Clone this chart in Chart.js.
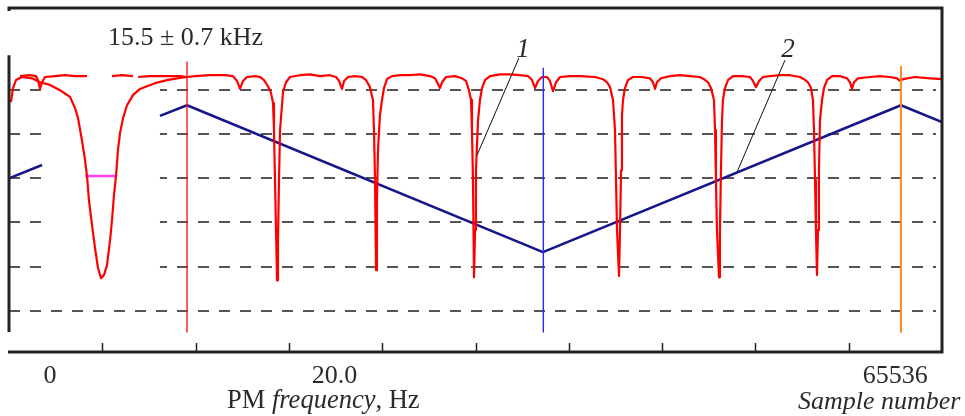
<!DOCTYPE html>
<html>
<head>
<meta charset="utf-8">
<script src="https://cdn.jsdelivr.net/npm/chart.js@4.4.1/dist/chart.umd.min.js"></script>
<style>
  html, body { margin: 0; padding: 0; background: #fff; }
</style>
</head>
<body>
<canvas id="chart" width="965" height="416"></canvas>
<script>
// x in scale divisions (0..10), y in grid divisions (dashed lines at 1..6)

// transmission spectrum, curve 1 (null = break in the trace)
var spectrumX = [0.118, 0.225, 0.289, 0.311, 0.332, 0.354, 0.386, 0.493, 0.600, 0.707, 0.836, 0.97,
    1.104, 1.211, 1.329, 1.36,
    1.383, 1.511, 1.672, 1.833, 1.908, 1.994, 2.154, 2.315, 2.401, 2.444, 2.476, 2.508, 2.551, 2.637, 2.690,
    2.733, 2.776, 2.808, 2.830, 2.840, 2.851, 2.862, 2.873, 2.883, 2.894, 2.905, 2.926, 2.937, 2.969, 3.012,
    3.119, 3.226, 3.333, 3.440, 3.505, 3.537, 3.569, 3.591, 3.633, 3.708, 3.783,
    3.826, 3.869, 3.901, 3.912, 3.923, 3.934, 3.944, 3.955, 3.976, 3.998, 4.019, 4.051, 4.105,
    4.191, 4.298, 4.405, 4.512, 4.566, 4.598, 4.619, 4.641, 4.684, 4.780, 4.855,
    4.898, 4.930, 4.952, 4.962, 4.973, 4.984, 4.995, 5.005, 5.027, 5.048, 5.070, 5.102, 5.155,
    5.263, 5.370, 5.477, 5.563, 5.606, 5.638, 5.670, 5.713, 5.766, 5.798, 5.831, 5.863, 5.906, 6.013, 6.120, 6.281, 6.367,
    6.410, 6.442, 6.474, 6.495, 6.506, 6.517, 6.538, 6.549, 6.560, 6.570, 6.581, 6.602, 6.634, 6.688,
    6.784, 6.870, 6.902, 6.924, 6.945, 6.988, 7.084, 7.192, 7.299, 7.406, 7.449,
    7.492, 7.524, 7.556, 7.567, 7.577, 7.588, 7.610, 7.620, 7.631, 7.642, 7.652, 7.674, 7.706, 7.760,
    7.856, 7.942, 7.974, 8.006, 8.039, 8.081, 8.156, 8.264, 8.371, 8.478, 8.521,
    8.564, 8.596, 8.617, 8.628, 8.639, 8.649, 8.660, 8.671, 8.681, 8.692, 8.714, 8.735, 8.767, 8.821,
    8.907, 8.982, 9.014, 9.035, 9.057, 9.099, 9.228, 9.335, 9.443, 9.518, 9.550, 9.582, 9.711, 9.871, 10.000];
var spectrumY = [6.31, 6.33, 6.31, 6.22, 6.02, 6.17, 6.29, 6.31, 6.33, 6.31, 6.31, null,
    6.31, 6.33, 6.31, null,
    6.29, 6.31, 6.31, 6.31, 6.29, 6.31, 6.33, 6.33, 6.31, 6.20, 6.02, 6.20, 6.29, 6.31, 6.29,
    6.22, 6.08, 5.93, 5.70, 5.09, 3.96, 2.83, 1.69, 2.60, 3.96, 5.09, 5.65, 5.95, 6.17, 6.29,
    6.33, 6.35, 6.31, 6.33, 6.29, 6.20, 6.02, 6.20, 6.29, 6.31, 6.29,
    6.22, 6.06, 5.77, 5.09, 3.96, 1.92, 3.50, 4.64, 5.43, 5.77, 6.04, 6.24, 6.31,
    6.33, 6.33, 6.35, 6.31, 6.26, 6.13, 6.04, 6.17, 6.29, 6.31, 6.26,
    6.20, 5.99, 5.77, 5.09, 3.96, 1.76, 2.83, 4.18, 5.31, 5.77, 6.04, 6.22, 6.31,
    6.35, 6.35, 6.33, 6.31, 6.22, 6.04, 6.20, 6.29, 6.29, 6.20, 5.97, 6.17, 6.29, 6.31, 6.31, 6.29, 6.24,
    6.17, 6.06, 5.77, 5.09, 3.96, 2.83, 1.79, 2.83, 4.18, 5.43, 5.77, 6.04, 6.22, 6.29,
    6.29, 6.26, 6.17, 6.02, 6.17, 6.26, 6.31, 6.33, 6.31, 6.29, 6.24,
    6.17, 6.04, 5.77, 5.09, 3.96, 2.83, 1.76, 2.83, 4.18, 5.31, 5.77, 6.04, 6.22, 6.31,
    6.31, 6.29, 6.20, 6.06, 6.20, 6.29, 6.31, 6.33, 6.33, 6.29, 6.24,
    6.17, 6.04, 5.77, 5.09, 3.96, 2.83, 1.81, 2.83, 4.18, 5.31, 5.77, 6.04, 6.22, 6.31,
    6.31, 6.26, 6.17, 6.02, 6.17, 6.26, 6.29, 6.31, 6.29, 6.26, 6.20, 6.24, 6.29, 6.26, 6.24];

// broad resonance of the inset (15.5 kHz line)
var resonanceX = [0.021, 0.043, 0.075, 0.139, 0.247, 0.332, 0.439, 0.547, 0.654, 0.707, 0.740, 0.782, 0.815, 0.836,
    0.857, 0.890, 0.922, 0.954, 0.986, 1.018, 1.050, 1.083, 1.104, 1.125, 1.147, 1.168, 1.190, 1.222, 1.265,
    1.329, 1.404, 1.479, 1.565, 1.693, 1.801, 1.908];
var resonanceY = [5.72, 6.04, 6.22, 6.29, 6.26, 6.17, 6.11, 5.99, 5.84, 5.59, 5.36, 4.86, 4.41, 4.05,
    3.50, 2.94, 2.42, 1.97, 1.74, 1.81, 2.03, 2.60, 3.05, 3.62, 4.05, 4.64, 5.02, 5.36, 5.65,
    5.88, 6.02, 6.08, 6.15, 6.22, 6.26, 6.29];

// frequency ramp, curve 2
var rampX = [0, 0.354, 1.0, 1.618, 1.908, 5.723, 9.560, 10.0];
var rampY = [4.00, 4.30, null, 5.41, 5.65, 2.33, 5.65, 5.27];

// half-width marker
var fwhmX = [0.815, 1.147];
var fwhmY = [4.05, 4.05];

// vertical markers (red, blue, orange)
var markerX = [1.908, 5.727, 9.560];
var markerTop = [6.63, 6.49, 6.52];
var markerBottom = 0.52;

// leader lines for the curve numbers
var leader1X = [5.466, 5.016];
var leader1Y = [6.72, 4.52];
var leader2X = [8.317, 7.803];
var leader2Y = [6.67, 4.14];
var curveNames = ['1', '2'];
var curveNameX = [5.51, 8.35];
var curveNameY = [6.94, 6.94];

var gridLevels = [1, 2, 3, 4, 5, 6];
var xTicks = [1, 2, 3, 4, 5, 6, 7, 8, 9];
var tickLabels = ['0', '20.0', '65536'];
var tickLabelX = [0.44, 3.49, 9.50];

// white box of the inset
var insetX = [0.354, 1.618];
var insetY = [7.85, 1.5];

var serif = '"Liberation Serif", "Times New Roman", serif';
var textColor = '#2b2b2b';

function pairs(xs, ys) {
    return xs.map(function (x, i) { return {x: x, y: ys[i]}; });
}

var framePlugin = {
    id: 'frame',
    beforeDatasetsDraw: function (chart) {
        var ctx = chart.ctx, area = chart.chartArea;
        var xs = chart.scales.x, ys = chart.scales.y;
        ctx.save();
        ctx.strokeStyle = '#555';
        ctx.lineWidth = 2;
        ctx.setLineDash([11, 10]);
        gridLevels.forEach(function (v) {
            var y = Math.round(ys.getPixelForValue(v));
            ctx.beginPath();
            ctx.moveTo(area.left, y);
            ctx.lineTo(area.right - 6, y);
            ctx.stroke();
        });
        ctx.setLineDash([]);
        var x0 = xs.getPixelForValue(insetX[0]), x1 = xs.getPixelForValue(insetX[1]);
        var y0 = ys.getPixelForValue(insetY[0]), y1 = ys.getPixelForValue(insetY[1]);
        ctx.fillStyle = '#fff';
        ctx.fillRect(x0, y0, x1 - x0, y1 - y0);
        ctx.restore();
    },
    afterDraw: function (chart) {
        var ctx = chart.ctx, area = chart.chartArea;
        var xs = chart.scales.x, ys = chart.scales.y;
        ctx.save();

        // frame
        ctx.strokeStyle = '#222';
        ctx.lineWidth = 3;
        ctx.beginPath();
        ctx.moveTo(area.left, area.top + 3);
        ctx.lineTo(area.left, area.top);
        ctx.lineTo(area.right, area.top);
        ctx.lineTo(area.right, area.bottom);
        ctx.lineTo(area.left - 1, area.bottom);
        ctx.stroke();
        ctx.beginPath();
        ctx.moveTo(area.left, ys.getPixelForValue(6.78));
        ctx.lineTo(area.left, ys.getPixelForValue(markerBottom));
        ctx.stroke();

        // inner ticks on the bottom axis
        ctx.lineWidth = 1.5;
        xTicks.forEach(function (v) {
            var x = Math.round(xs.getPixelForValue(v)) + 0.5;
            ctx.beginPath();
            ctx.moveTo(x, area.bottom);
            ctx.lineTo(x, area.bottom - 9);
            ctx.stroke();
        });

        ctx.fillStyle = textColor;
        ctx.textBaseline = 'alphabetic';

        // tick labels
        ctx.font = '26px ' + serif;
        ctx.textAlign = 'center';
        tickLabels.forEach(function (t, i) {
            ctx.fillText(t, xs.getPixelForValue(tickLabelX[i]), area.bottom + 31);
        });

        // axis titles
        ctx.textAlign = 'left';
        var x = 227, yb = area.bottom + 56;
        ctx.font = '26.5px ' + serif;
        ctx.fillText('PM ', x, yb);
        x += ctx.measureText('PM ').width;
        ctx.font = 'italic 26.5px ' + serif;
        ctx.fillText('frequency', x, yb);
        x += ctx.measureText('frequency').width;
        ctx.font = '26.5px ' + serif;
        ctx.fillText(', Hz', x, yb);

        ctx.font = 'italic 26px ' + serif;
        ctx.fillText('Sample number', 798, area.bottom + 57);

        // inset title
        ctx.font = '26px ' + serif;
        ctx.fillText('15.5 \u00b1 0.7 kHz', 108, 45);

        // curve numbers
        ctx.font = 'italic 27px ' + serif;
        ctx.textAlign = 'center';
        curveNames.forEach(function (t, i) {
            ctx.fillText(t, xs.getPixelForValue(curveNameX[i]), ys.getPixelForValue(curveNameY[i]) + 9);
        });
        ctx.restore();
    }
};

var markerColors = ['#ff1a1a', '#2a2aff', '#ff8a1e'];
var markerWidths = [1.4, 1.4, 2];

var datasets = [
    {data: pairs(leader1X, leader1Y), borderColor: '#111', borderWidth: 1},
    {data: pairs(leader2X, leader2Y), borderColor: '#111', borderWidth: 1}
];
markerX.forEach(function (mx, i) {
    datasets.push({
        data: [{x: mx, y: markerTop[i]}, {x: mx, y: markerBottom}],
        borderColor: markerColors[i],
        borderWidth: markerWidths[i]
    });
});
datasets.push(
    {data: pairs(spectrumX, spectrumY), borderColor: '#ff0000', borderWidth: 2.2},
    {data: pairs(resonanceX, resonanceY), borderColor: '#ff0000', borderWidth: 2.2},
    {data: pairs(fwhmX, fwhmY), borderColor: '#ff3cff', borderWidth: 2.5},
    {data: pairs(rampX, rampY), borderColor: '#15158c', borderWidth: 2.5}
);
datasets.forEach(function (d) {
    d.showLine = true;
    d.pointRadius = 0;
    d.tension = 0;
    d.borderJoinStyle = 'round';
    d.spanGaps = false;
});

var chart = new Chart(document.getElementById('chart'), {
    type: 'scatter',
    data: {datasets: datasets},
    options: {
        responsive: false,
        animation: false,
        layout: {padding: {left: 9, top: 8, right: 23, bottom: 64}},
        plugins: {legend: {display: false}, tooltip: {enabled: false}},
        scales: {
            x: {type: 'linear', min: 0, max: 10, display: false},
            y: {type: 'linear', min: 0.07, max: 7.85, display: false}
        }
    },
    plugins: [framePlugin]
});
</script>
</body>
</html>
